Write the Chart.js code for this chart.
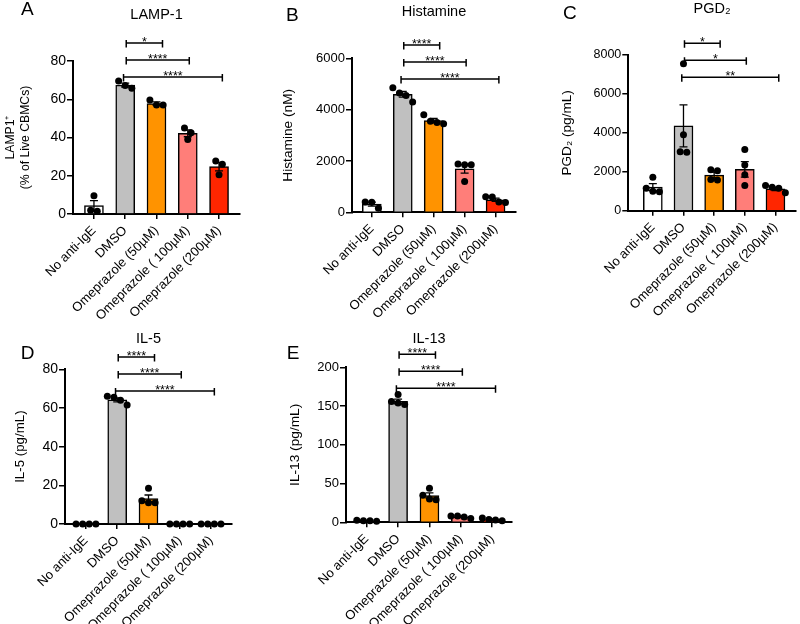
<!DOCTYPE html>
<html>
<head>
<meta charset="utf-8">
<script src="https://cdn.jsdelivr.net/npm/chart.js@4.4.0/dist/chart.umd.min.js"></script>
<style>
  html, body { margin: 0; padding: 0; background: #fff; }
  #wrap { position: relative; width: 800px; height: 624px; overflow: hidden; background: #fff; }
  canvas { position: absolute; }
</style>
</head>
<body>
<div id="wrap">
  <canvas id="cA"></canvas>
  <canvas id="cB"></canvas>
  <canvas id="cC"></canvas>
  <canvas id="cD"></canvas>
  <canvas id="cE"></canvas>
</div>
<script>
const groups = ['No anti-IgE', 'DMSO', 'Omeprazole (50µM)', 'Omeprazole ( 100µM)', 'Omeprazole (200µM)'];
const barColors = ['#ffffff', '#c0c0c0', '#ff9300', '#ff7e79', '#ff2600'];

// A - LAMP-1 (% of live CBMCs)
const lampMean = [4.4, 67.4, 57.8, 42.2, 24.8];
const lampSem = [2.6, 1.0, 0.8, 1.8, 2.2];
const lampPts = [[9.5, 2, 1.5], [69.5, 65.8, 67.2], [57, 59.6, 57], [45, 42.5, 39], [27.7, 26, 20.5]];
const lampTicks = [0, 20, 40, 60, 80];
const lampSig = [[1, 2, '*'], [1, 3, '****'], [1, 4, '****']];

// B - Histamine (nM)
const histMean = [320, 4600, 3570, 1690, 490];
const histSem = [80, 115, 85, 165, 62];
const histPts = [[160, 390, 400], [4300, 4550, 4650, 4850], [3450, 3500, 3550, 3800], [1200, 1850, 1850, 1880], [380, 400, 600, 610]];
const histTicks = [0, 2000, 4000, 6000];
const histSig = [[1, 2, '****'], [1, 3, '****'], [1, 4, '****']];

// C - PGD2 (pg/mL)
const pgdMean = [1210, 4360, 1830, 2120, 1120];
const pgdSem = [180, 1080, 150, 400, 90];
const pgdPts = [[980, 1000, 1150, 1720], [3000, 3030, 3900, 7550], [1580, 1600, 2050, 2100], [1300, 1850, 2350, 3150], [920, 1150, 1200, 1300]];
const pgdTicks = [0, 2000, 4000, 6000, 8000];
const pgdSig = [[1, 2, '*'], [1, 3, '*'], [1, 4, '**']];

// D - IL-5 (pg/mL)
const il5Mean = [0, 64.2, 13.2, 0, 0];
const il5Sem = [0, 1.0, 1.8, 0, 0];
const il5Pts = [[0, 0, 0, 0], [61.5, 64, 65.5, 66], [11, 11, 12, 18.5], [0, 0, 0, 0], [0, 0, 0, 0]];
const il5Ticks = [0, 20, 40, 60, 80];
const il5Sig = [[1, 2, '****'], [1, 3, '****'], [1, 4, '****']];

// E - IL-13 (pg/mL)
const il13Mean = [2, 156, 34.5, 7, 3.5];
const il13Sem = [0.3, 3, 3.4, 0.8, 0.8];
const il13Pts = [[1.5, 2, 2, 2.5], [152, 154, 156, 165], [29, 30, 35, 44], [5, 7, 8, 8], [2, 3, 3.5, 5.5]];
const il13Ticks = [0, 50, 100, 150, 200];
const il13Sig = [[1, 2, '****'], [1, 3, '****'], [1, 4, '****']];

// bracket end nudges (px), top row first
const sigStartShift = [1, 1, -1.7];
const sigEndShift = [6, 1.5, 3.3];

const FONT = '"Liberation Sans", Arial, Helvetica, sans-serif';
Chart.defaults.font.family = FONT;
Chart.defaults.color = '#000';

const panels = [
  {canvas: 'cA', letter: 'A', title: 'LAMP-1', yTitle: ['LAMP1⁺', '(% of Live CBMCs)'],
   mean: lampMean, sem: lampSem, pts: lampPts, ticks: lampTicks, sig: lampSig,
   box: [0, 0, 260, 330], area: [73, 61, 240, 214], xRange: [-0.67, 4.67],
   letterAt: [21, 15.3], titleMid: 15.4, yTitleAt: 10.5, yTitleSize: 12.2, tickSize: 14, sigOff: 16},
  {canvas: 'cB', letter: 'B', title: 'Histamine', yTitle: 'Histamine (nM)',
   mean: histMean, sem: histSem, pts: histPts, ticks: histTicks, sig: histSig,
   box: [260, 0, 260, 330], area: [352, 58.3, 518, 212.3], xRange: [-0.64, 4.66],
   letterAt: [286, 21], titleMid: 12, yTitleAt: 288, yTitleSize: 13.7, tickSize: 13, sigOff: 20.7},
  {canvas: 'cC', letter: 'C', title: 'PGD₂', yTitle: 'PGD₂ (pg/mL)',
   mean: pgdMean, sem: pgdSem, pts: pgdPts, ticks: pgdTicks, sig: pgdSig,
   box: [520, 0, 280, 330], area: [628.3, 55, 800, 210.7], xRange: [-0.8, 4.67],
   letterAt: [563, 18.6], titleMid: 9, yTitleAt: 567, yTitleSize: 13.6, tickSize: 12.5, sigOff: 22.3},
  {canvas: 'cD', letter: 'D', title: 'IL-5', yTitle: 'IL-5 (pg/mL)',
   mean: il5Mean, sem: il5Sem, pts: il5Pts, ticks: il5Ticks, sig: il5Sig,
   box: [0, 330, 260, 294], area: [65, 369.3, 232, 524], xRange: [-0.67, 4.67],
   letterAt: [20.7, 358.6], titleMid: 339.4, yTitleAt: 20, yTitleSize: 13.3, tickSize: 14, sigOff: 21.7},
  {canvas: 'cE', letter: 'E', title: 'IL-13', yTitle: 'IL-13 (pg/mL)',
   mean: il13Mean, sem: il13Sem, pts: il13Pts, ticks: il13Ticks, sig: il13Sig,
   box: [260, 330, 260, 294], area: [346, 367.3, 512, 522.3], xRange: [-0.66, 4.63],
   letterAt: [286.7, 358.6], titleMid: 339.4, yTitleAt: 295, yTitleSize: 13.7, tickSize: 13, sigOff: 21}
];

function decoFor(p) {
  return {
    id: 'deco' + p.letter,
    afterDatasetDraw(chart, args) {
      if (args.index !== 0) return;
      const ctx = chart.ctx, x = chart.scales.x, y = chart.scales.y;
      ctx.save();
      ctx.strokeStyle = '#000';
      ctx.lineWidth = 1.3;
      p.mean.forEach((m, i) => {
        const s = p.sem[i];
        if (!s) return;
        const cx = x.getPixelForValue(i);
        const lo = y.getPixelForValue(Math.max(m - s, 0)), hi = y.getPixelForValue(m + s);
        ctx.beginPath();
        ctx.moveTo(cx, lo); ctx.lineTo(cx, hi);
        ctx.moveTo(cx - 4, hi); ctx.lineTo(cx + 4, hi);
        ctx.moveTo(cx - 4, lo); ctx.lineTo(cx + 4, lo);
        ctx.stroke();
      });
      ctx.restore();
    },
    afterDraw(chart) {
      const ctx = chart.ctx, x = chart.scales.x;
      const bx = p.box[0], by = p.box[1];
      ctx.save();
      ctx.fillStyle = '#000';
      ctx.font = '19px ' + FONT;
      ctx.textAlign = 'left';
      ctx.textBaseline = 'alphabetic';
      ctx.fillText(p.letter, p.letterAt[0] - bx, p.letterAt[1] - by);

      ctx.strokeStyle = '#000';
      ctx.lineWidth = 1.5;
      ctx.font = '12.5px ' + FONT;
      ctx.textAlign = 'center';
      const n = p.sig.length;
      p.sig.forEach(([a, b, label], k) => {
        const ly = chart.chartArea.top + p.sigOff - 17 * (n - 1 - k);
        const x1 = x.getPixelForValue(a) + sigStartShift[k];
        const x2 = x.getPixelForValue(b) + sigEndShift[k];
        ctx.beginPath();
        ctx.moveTo(x1, ly); ctx.lineTo(x2, ly);
        ctx.moveTo(x1, ly - 3); ctx.lineTo(x1, ly + 4.5);
        ctx.moveTo(x2, ly - 3); ctx.lineTo(x2, ly + 4.5);
        ctx.stroke();
        ctx.fillText(label, (x1 + x2) / 2, ly + 2.5);
      });
      ctx.restore();
    }
  };
}

// spread overlapping dots sideways, like a small beeswarm
function swarm(chart, pts) {
  const x = chart.scales.x, y = chart.scales.y;
  const unit = x.getPixelForValue(1) - x.getPixelForValue(0);
  const D = 6.6;
  const out = [];
  pts.forEach((vals, i) => {
    const sorted = vals.map(v => ({v: v, py: y.getPixelForValue(v)})).sort((a, b) => a.py - b.py);
    const clusters = [];
    let cur = [];
    sorted.forEach(o => {
      if (cur.length && o.py - cur[cur.length - 1].py >= D) { clusters.push(cur); cur = []; }
      cur.push(o);
    });
    if (cur.length) clusters.push(cur);
    clusters.forEach(c => c.forEach((o, k) => {
      out.push({x: i + (k - (c.length - 1) / 2) * D / unit, y: o.v});
    }));
  });
  return out;
}

function makePanel(p) {
  const cv = document.getElementById(p.canvas);
  const [bx, by, bw, bh] = p.box;
  cv.width = bw; cv.height = bh;
  cv.style.left = bx + 'px'; cv.style.top = by + 'px';
  cv.style.width = bw + 'px'; cv.style.height = bh + 'px';
  const aL = p.area[0] - bx, aT = p.area[1] - by, aR = p.area[2] - bx, aB = p.area[3] - by;

  const titleSize = 14.5, titleLH = titleSize * 1.2;
  const tPadTop = (p.titleMid - by) - titleLH / 2;
  const tPadBottom = aT - tPadTop - titleLH;
  const yLH = p.yTitleSize * 1.2;

  const chart = new Chart(cv, {
    data: {
      datasets: [
        {
          type: 'bar',
          data: p.mean.map((m, i) => ({x: i, y: m})),
          backgroundColor: barColors,
          borderColor: '#000',
          borderWidth: 1.5,
          barThickness: 19,
          order: 2
        },
        {
          type: 'scatter',
          data: p.pts.flatMap((vals, i) => vals.map(v => ({x: i, y: v}))),
          pointRadius: 3.5,
          pointBackgroundColor: '#000',
          pointBorderWidth: 0,
          clip: false,
          order: 1
        }
      ]
    },
    options: {
      responsive: false,
      animation: false,
      events: [],
      layout: {padding: {left: 0, top: 0, right: bw - aR, bottom: 0}},
      plugins: {
        legend: {display: false},
        tooltip: {enabled: false},
        title: {
          display: true, text: p.title, fullSize: false, color: '#000',
          font: {size: titleSize, weight: 'normal', lineHeight: 1.2},
          padding: {top: tPadTop, bottom: tPadBottom}
        }
      },
      scales: {
        x: {
          type: 'linear',
          offset: false,
          min: p.xRange[0], max: p.xRange[1],
          afterBuildTicks: s => { s.ticks = groups.map((g, i) => ({value: i})); },
          afterFit: s => { s.height = bh - aB; s.paddingLeft = 0; s.paddingRight = 0; },
          ticks: {
            callback: v => groups[v],
            minRotation: 45, maxRotation: 45, autoSkip: false,
            font: {size: 13}, padding: 4, color: '#000'
          },
          grid: {offset: false, drawOnChartArea: false, drawTicks: true, tickLength: 5, color: '#000', lineWidth: 1.5},
          border: {color: '#000', width: 2}
        },
        y: {
          min: 0, max: p.ticks[p.ticks.length - 1],
          afterBuildTicks: s => { s.ticks = p.ticks.map(v => ({value: v})); },
          afterFit: s => { s.width = aL; s.paddingTop = 0; s.paddingBottom = 0; },
          ticks: {callback: v => String(v), font: {size: p.tickSize}, padding: 1, color: '#000'},
          grid: {drawOnChartArea: false, drawTicks: true, tickLength: 6, color: '#000', lineWidth: 1.5},
          border: {color: '#000', width: 2},
          title: {
            display: true, text: p.yTitle, color: '#000',
            font: {size: p.yTitleSize, lineHeight: 1.2},
            padding: {top: (p.yTitleAt - bx) - yLH / 2}
          }
        }
      }
    },
    plugins: [decoFor(p)]
  });

  chart.data.datasets[1].data = swarm(chart, p.pts);
  chart.update('none');
  return chart;
}

panels.forEach(makePanel);
</script>
</body>
</html>
